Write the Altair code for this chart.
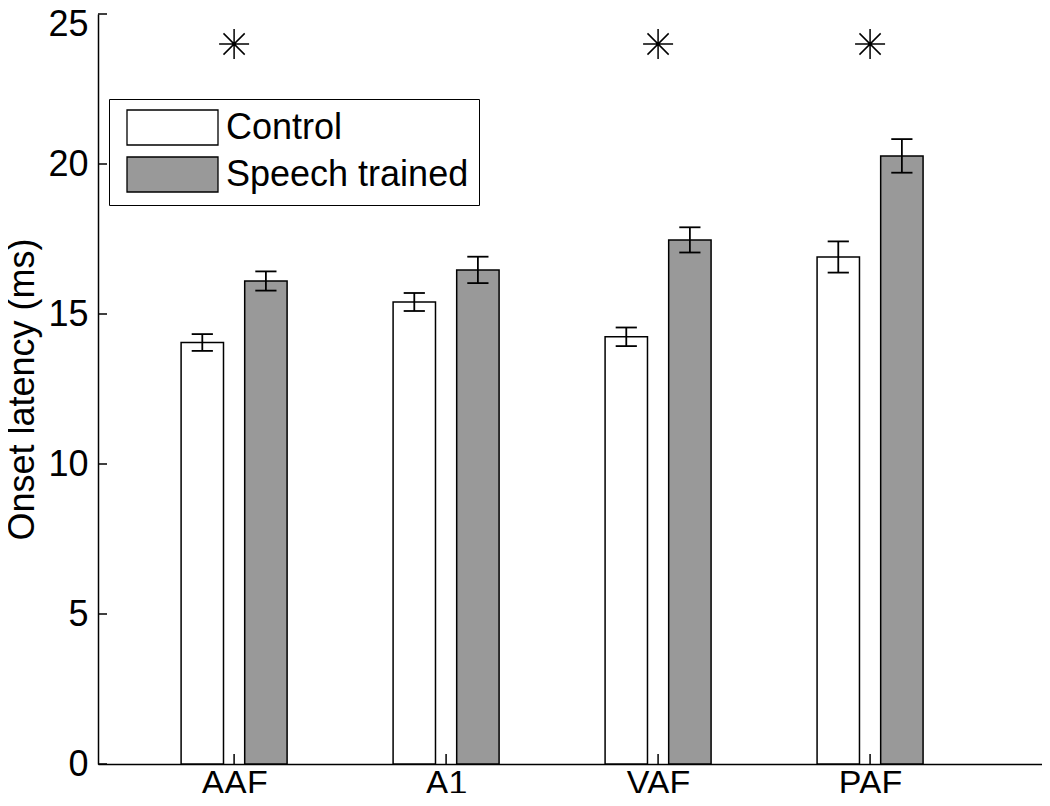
import json
import altair as alt
import pandas as pd

# ---- data ----
regions = ["AAF", "A1", "VAF", "PAF"]
groups = ["Control", "Speech trained"]
control_mean = [14.05, 15.4, 14.24, 16.9]
control_err = [0.28, 0.30, 0.31, 0.52]
speech_mean = [16.1, 16.47, 17.47, 20.27]
speech_err = [0.32, 0.44, 0.42, 0.56]
star_regions = ["AAF", "VAF", "PAF"]
star_y = [24, 24, 24]
y_ticks = [0, 5, 10, 15, 20, 25]

FONT = "Liberation Sans"

rows = []
for i, r in enumerate(regions):
    rows.append({"region": r, "idx": i + 1, "group": groups[0],
                 "mean": control_mean[i], "err": control_err[i]})
    rows.append({"region": r, "idx": i + 1, "group": groups[1],
                 "mean": speech_mean[i], "err": speech_err[i]})
bars_df = pd.DataFrame(rows)

stars_df = pd.DataFrame({"region": star_regions,
                         "idx": [regions.index(r) + 1 for r in star_regions],
                         "y": star_y})
yt_df = pd.DataFrame({"v": y_ticks})
xt_df = pd.DataFrame({"idx": list(range(1, len(regions) + 1))})

xscale = alt.Scale(domain=[0.358, 4.811], nice=False, zero=False)
yscale = alt.Scale(domain=[0, 25], nice=False, zero=True)

label_expr = json.dumps(regions) + "[datum.value - 1]"

xaxis = alt.Axis(values=list(range(1, len(regions) + 1)), labelExpr=label_expr,
                 ticks=False, tickSize=0, grid=False, domainColor="black",
                 domainWidth=1.5, labelFont=FONT, labelFontSize=34,
                 labelColor="black", labelPadding=2, labelFlush=False,
                 title=None)
# keep the topmost label ("25") inside the page
top_tick = max(y_ticks)
yaxis = alt.Axis(values=y_ticks, ticks=False, tickSize=0, grid=False,
                 domainColor="black", domainWidth=1.5, labelFont=FONT,
                 labelFontSize=36, labelColor="black", labelPadding=10,
                 labelOffset={"condition": {"test": f"datum.value == {top_tick}",
                                            "value": 10}, "value": 0},
                 labelFlush=False, title="Onset latency (ms)", titleFont=FONT,
                 titleFontSize=36, titleFontWeight="normal", titleColor="black",
                 titlePadding=6)

base = alt.Chart(bars_df).transform_calculate(
    xc="datum.idx + (datum.group == 'Control' ? -0.15 : 0.15)"
).transform_calculate(
    xl="datum.xc - 0.1", xr="datum.xc + 0.1",
    cl="datum.xc - 0.05", cr="datum.xc + 0.05",
    lo="datum.mean - datum.err", hi="datum.mean + datum.err",
)

# wide rectangle swatch: nominal symbol size is 35px, drawn 91px wide
rect_path = "M-2.6,-1L2.6,-1L2.6,1L-2.6,1Z"

bars = base.mark_bar(stroke="black", strokeWidth=1.5).encode(
    x=alt.X("xl:Q", scale=xscale, axis=xaxis),
    x2="xr:Q",
    y=alt.Y("mean:Q", scale=yscale, axis=yaxis),
    y2=alt.datum(0),
    fill=alt.Fill("group:N",
                  scale=alt.Scale(domain=groups, range=["white", "#999999"]),
                  legend=alt.Legend(orient="none", legendX=11, legendY=85,
                                    title=None, labelFont=FONT,
                                    labelFontSize=36, labelColor="black",
                                    labelLimit=500,
                                    symbolType=rect_path, symbolSize=1225,
                                    symbolStrokeColor="black",
                                    symbolStrokeWidth=1.3, symbolOffset=35,
                                    labelOffset=35, rowPadding=6,
                                    padding=10, strokeColor="black",
                                    fillColor="white")),
)

err_line = base.mark_rule(color="black", strokeWidth=1.8).encode(
    x=alt.X("xc:Q", scale=xscale, axis=xaxis),
    y=alt.Y("lo:Q", scale=yscale, axis=yaxis),
    y2="hi:Q",
)
cap_lo = base.mark_rule(color="black", strokeWidth=1.8).encode(
    x=alt.X("cl:Q", scale=xscale, axis=xaxis), x2="cr:Q",
    y=alt.Y("lo:Q", scale=yscale, axis=yaxis),
)
cap_hi = base.mark_rule(color="black", strokeWidth=1.8).encode(
    x=alt.X("cl:Q", scale=xscale, axis=xaxis), x2="cr:Q",
    y=alt.Y("hi:Q", scale=yscale, axis=yaxis),
)

star_path = "M-1,0L1,0M0,-1L0,1M-0.707,-0.707L0.707,0.707M-0.707,0.707L0.707,-0.707"
stars = alt.Chart(stars_df).mark_point(
    shape=star_path, size=900, filled=False, stroke="black", strokeWidth=1.5,
    opacity=1,
).encode(
    x=alt.X("idx:Q", scale=xscale, axis=xaxis),
    y=alt.Y("y:Q", scale=yscale, axis=yaxis),
)

yticks = alt.Chart(yt_df).mark_tick(
    orient="horizontal", size=9, thickness=1.5, color="black", opacity=1
).encode(
    y=alt.Y("v:Q", scale=yscale, axis=yaxis),
    x=alt.value(4.5),
)
xticks = alt.Chart(xt_df).mark_tick(
    orient="vertical", size=10, thickness=1.5, color="black", opacity=1
).encode(
    x=alt.X("idx:Q", scale=xscale, axis=xaxis),
    y=alt.value(745),
)

chart = alt.layer(bars, err_line, cap_lo, cap_hi, stars, yticks, xticks).properties(
    width=944, height=750,
    autosize=alt.AutoSizeParams(type="none"),
    padding={"left": 90, "top": 6, "right": 0, "bottom": 29},
    background="white",
).configure_view(strokeWidth=0)

chart.save("out.html", embed_options={"renderer": "svg", "actions": False})
